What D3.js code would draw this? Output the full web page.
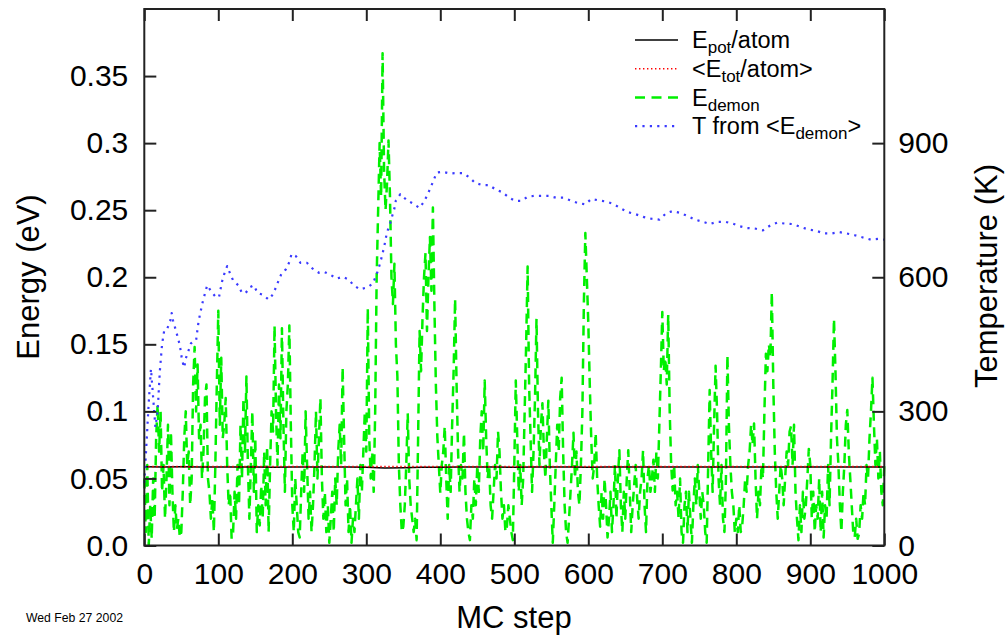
<!DOCTYPE html>
<html>
<head>
<meta charset="utf-8">
<script src="https://cdn.jsdelivr.net/npm/d3@7"></script>
<style>
body { margin: 0; background: #fff; }
svg text { font-family: "Liberation Sans", Arial, Helvetica, sans-serif; fill: #000; }
</style>
</head>
<body>
<svg id="chart" width="1007" height="639"></svg>
<script>
// MC steps on the x axis, energies in eV on the left, temperature in K on the right
var xTicks = [0, 100, 200, 300, 400, 500, 600, 700, 800, 900, 1000];
var eTicks = [0, 0.05, 0.1, 0.15, 0.2, 0.25, 0.3, 0.35];
var eTickLabels = ['0.0', '0.05', '0.1', '0.15', '0.2', '0.25', '0.3', '0.35'];
var tTicks = [0, 300, 600, 900];

// E_pot/atom
var epotSteps = [0, 25, 50, 75, 100, 125, 150, 175, 200, 225, 250, 275, 300, 325, 350, 375, 400, 425, 450, 475, 500,
	525, 550, 575, 600, 625, 650, 675, 700, 725, 750, 775, 800, 825, 850, 875, 900, 925, 950, 975, 1000];
var epotValues = [0.0588, 0.0586, 0.0587, 0.0585, 0.0586, 0.0585, 0.0586, 0.0584, 0.0586, 0.0585, 0.0586, 0.0585,
	0.0584, 0.0577, 0.0579, 0.0583, 0.0584, 0.0585, 0.0586, 0.0585, 0.0584, 0.0586, 0.0585, 0.0586, 0.0584, 0.0586,
	0.0585, 0.0586, 0.0585, 0.0586, 0.0585, 0.0586, 0.0585, 0.0586, 0.0585, 0.0586, 0.0585, 0.0586, 0.0585, 0.0586, 0.0585];

// <E_tot/atom>
var etotSteps = [0, 200, 400, 600, 800, 1000];
var etotValues = [0.0588, 0.0588, 0.0588, 0.0588, 0.0588, 0.0588];

// E_demon, one value every 2 MC steps
var demonStep = 2;
var demonValues = [
	0.05,0.01,0.06,0.0,0.03,0.005,0.05,0.02,0.08,0.105,
	0.07,0.1,0.04,0.06,0.02,0.05,0.09,0.03,0.085,0.04,
	0.01,0.03,0.012,0.02,0.006,0.01,0.04,0.08,0.1,0.06,
	0.07,0.03,0.05,0.12,0.148,0.1,0.135,0.08,0.09,0.05,
	0.07,0.11,0.12,0.05,0.04,0.02,0.035,0.01,0.06,0.12,
	0.175,0.09,0.14,0.08,0.09,0.11,0.06,0.03,0.04,0.005,
	0.01,0.04,0.02,0.06,0.03,0.09,0.05,0.11,0.07,0.126,
	0.06,0.02,0.06,0.1,0.04,0.08,0.01,0.03,0.015,0.045,
	0.02,0.07,0.03,0.074,0.01,0.06,0.1,0.085,0.164,0.1,
	0.06,0.12,0.08,0.162,0.09,0.04,0.1,0.12,0.164,0.09,
	0.03,0.01,0.05,0.03,0.01,0.006,0.04,0.07,0.04,0.1,
	0.06,0.02,0.04,0.01,0.03,0.06,0.1,0.05,0.08,0.11,
	0.05,0.02,0.04,0.01,0.03,0.002,0.02,0.04,0.01,0.05,
	0.03,0.07,0.09,0.06,0.133,0.08,0.03,0.05,0.01,0.03,
	0.002,0.02,0.01,0.03,0.05,0.02,0.06,0.04,0.07,0.1,
	0.07,0.177,0.08,0.05,0.07,0.04,0.1,0.2,0.25,0.3,
	0.26,0.367,0.28,0.25,0.27,0.302,0.26,0.2,0.18,0.21,
	0.15,0.126,0.06,0.03,0.01,0.014,0.03,0.06,0.0985,0.05,
	0.03,0.02,0.01,0.02,0.004,0.08,0.16,0.13,0.17,0.2,
	0.218,0.16,0.2,0.23,0.19,0.252,0.18,0.12,0.081,0.06,
	0.039,0.06,0.07,0.089,0.05,0.02,0.06,0.04,0.09,0.13,
	0.184,0.12,0.07,0.04,0.06,0.05,0.084,0.04,0.02,0.01,
	0.004,0.03,0.02,0.05,0.03,0.06,0.04,0.08,0.1,0.07,
	0.123,0.08,0.05,0.06,0.03,0.02,0.04,0.06,0.05,0.085,
	0.07,0.04,0.02,0.03,0.01,0.014,0.03,0.02,0.01,0.004,
	0.06,0.123,0.08,0.04,0.06,0.03,0.05,0.1,0.15,0.208,
	0.12,0.08,0.04,0.07,0.11,0.169,0.1,0.06,0.09,0.106,
	0.07,0.05,0.08,0.108,0.06,0.03,0.002,0.03,0.06,0.09,
	0.07,0.11,0.125,0.07,0.03,0.01,0.002,0.02,0.04,0.06,
	0.084,0.05,0.07,0.04,0.03,0.06,0.1,0.18,0.233,0.2,
	0.166,0.12,0.079,0.05,0.06,0.084,0.05,0.03,0.014,0.04,
	0.02,0.05,0.03,0.006,0.02,0.04,0.01,0.03,0.06,0.02,
	0.05,0.071,0.03,0.01,0.04,0.02,0.05,0.071,0.04,0.01,
	0.03,0.045,0.06,0.035,0.02,0.04,0.05,0.071,0.03,0.01,
	0.05,0.06,0.04,0.05,0.064,0.04,0.07,0.05,0.09,0.13,
	0.174,0.13,0.14,0.12,0.172,0.1,0.06,0.041,0.06,0.03,
	0.04,0.02,0.05,0.01,0.002,0.03,0.04,0.01,0.04,0.02,
	0.002,0.03,0.05,0.03,0.06,0.04,0.02,0.04,0.03,0.01,
	0.002,0.06,0.116,0.07,0.04,0.09,0.134,0.1,0.05,0.03,
	0.06,0.02,0.01,0.05,0.142,0.09,0.06,0.04,0.03,0.01,
	0.02,0.01,0.03,0.01,0.015,0.03,0.05,0.04,0.06,0.07,
	0.09,0.075,0.091,0.05,0.02,0.04,0.03,0.06,0.05,0.1,
	0.143,0.13,0.15,0.14,0.189,0.12,0.07,0.04,0.02,0.04,
	0.06,0.05,0.03,0.05,0.07,0.06,0.085,0.089,0.06,0.09,
	0.04,0.02,0.004,0.03,0.01,0.04,0.02,0.03,0.05,0.072,
	0.06,0.02,0.04,0.01,0.03,0.02,0.05,0.01,0.04,0.006,
	0.03,0.02,0.06,0.03,0.08,0.12,0.169,0.13,0.08,0.06,
	0.03,0.01,0.04,0.06,0.09,0.101,0.07,0.05,0.03,0.01,
	0.006,0.02,0.005,0.009,0.03,0.02,0.04,0.03,0.06,0.05,
	0.08,0.1,0.125,0.09,0.06,0.08,0.05,0.07,0.04,0.03,
	0.06];

// T from <E_demon>, in K
var tempSteps = [0, 3, 6, 9, 12, 15, 18, 21, 24, 27, 31, 35, 37, 39, 42, 45, 48, 51, 54, 56, 60, 63, 66, 70, 73, 75,
	79, 82, 85, 91, 97, 101, 105, 108, 112, 116, 120, 127, 132, 137, 143, 148, 153, 161, 168, 174, 179, 182, 186, 191,
	196, 199, 205, 211, 220, 227, 236, 243, 252, 260, 268, 276, 283, 291, 301, 309, 316, 320, 324, 328, 332, 335, 338,
	340, 346, 355, 363, 372, 378, 383, 387, 391, 395, 403, 413, 422, 430, 439, 447, 457, 466, 475, 484, 493, 501, 510,
	518, 527, 537, 547, 556, 566, 576, 586, 596, 604, 614, 625, 635, 644, 653, 664, 674, 685, 696, 705, 714, 724, 734,
	744, 755, 764, 774, 785, 795, 805, 815, 825, 836, 846, 855, 866, 876, 886, 897, 908, 918, 929, 939, 949, 960, 971,
	982, 993, 1000];
var tempValues = [140, 230, 320, 395, 330, 265, 300, 390, 450, 482, 485, 502, 520, 502, 485, 467, 448, 415, 398, 418,
	437, 452, 456, 459, 497, 515, 545, 564, 582, 567, 555, 556, 590, 607, 625, 608, 593, 582, 565, 565, 578, 582, 565,
	560, 550, 562, 582, 595, 610, 617, 634, 652, 647, 632, 632, 620, 610, 612, 605, 597, 601, 595, 582, 573, 577, 586,
	616, 640, 667, 701, 719, 737, 754, 772, 786, 772, 765, 755, 769, 786, 801, 817, 834, 836, 832, 833, 833, 824, 811,
	806, 806, 796, 790, 778, 771, 771, 780, 782, 782, 782, 778, 778, 772, 766, 763, 775, 772, 769, 763, 754, 746, 741,
	735, 731, 729, 743, 748, 744, 737, 729, 724, 719, 724, 724, 720, 714, 710, 709, 705, 716, 722, 720, 719, 713, 707,
	704, 698, 698, 701, 698, 694, 689, 684, 686, 684];

var legendMain = ['E', '<E', 'E', 'T from <E'];
var legendSub = ['pot', 'tot', 'demon', 'demon'];
var legendTail = ['/atom', '/atom>', '', '>'];

var styles = [
	{ color: '#000000', width: 1.5, dash: null },
	{ color: '#ff0000', width: 1.6, dash: '1.4,2.6' },
	{ color: '#00f000', width: 2.5, dash: '10,6.5' },
	{ color: '#3a3aff', width: 2.2, dash: '2.2,5.2' }
];

// plot frame (window.top is read-only, hence the prefix)
var plotLeft = 144.3, plotRight = 884.3, plotTop = 9, plotBottom = 545.5;

var svg = d3.select('#chart');
svg.append('rect').attr('width', 1007).attr('height', 639).attr('fill', '#fff');

var x = d3.scaleLinear().domain([0, 1000]).range([plotLeft, plotRight]);
var yE = d3.scaleLinear().domain([0, 0.4]).range([plotBottom, plotTop]);
var yT = d3.scaleLinear().domain([0, 1200]).range([plotBottom, plotTop]);

function zip(steps, values)
{
	var out = [];
	for (var i = 0; i < values.length; i++)
	{
		out.push({ step: steps[i], v: values[i] });
	}
	return out;
}

var demonData = demonValues.map(function(v, i) { return { step: i * demonStep, v: v }; });
var epotData = zip(epotSteps, epotValues);
var etotData = zip(etotSteps, etotValues);
var tempData = zip(tempSteps, tempValues);

function drawLine(data, yScale, st)
{
	var line = d3.line().x(d => x(d.step)).y(d => yScale(d.v));
	var p = svg.append('path').datum(data)
		.attr('d', line)
		.attr('fill', 'none')
		.attr('stroke', st.color)
		.attr('stroke-width', st.width)
		.attr('stroke-linejoin', 'round');
	if (st.dash) p.attr('stroke-dasharray', st.dash);
	return p;
}

drawLine(demonData, yE, styles[2]);
drawLine(epotData, yE, styles[0]);
drawLine(etotData, yE, styles[1]);
drawLine(tempData, yT, styles[3]);

// axes, ticks pointing inwards
function styleAxis(g)
{
	g.select('.domain').remove();
	g.selectAll('.tick line').attr('stroke', '#222').attr('stroke-width', 2);
	g.selectAll('.tick text').attr('font-size', 30).attr('font-family', '"Liberation Sans", Arial, sans-serif').attr('fill', '#000');
}

svg.append('g').attr('transform', 'translate(0,' + plotBottom + ')')
	.call(d3.axisBottom(x).tickValues(xTicks).tickSizeInner(-12).tickSizeOuter(0).tickPadding(17).tickFormat(d3.format('d')))
	.call(styleAxis);
svg.append('g').attr('transform', 'translate(0,' + plotTop + ')')
	.call(d3.axisTop(x).tickValues(xTicks).tickSizeInner(-12).tickSizeOuter(0).tickFormat(''))
	.call(styleAxis);
svg.append('g').attr('transform', 'translate(' + plotLeft + ',0)')
	.call(d3.axisLeft(yE).tickValues(eTicks).tickSizeInner(-12).tickSizeOuter(0).tickPadding(16)
		.tickFormat((d, i) => eTickLabels[i]))
	.call(styleAxis);
svg.append('g').attr('transform', 'translate(' + plotRight + ',0)')
	.call(d3.axisRight(yT).tickValues(tTicks).tickSizeInner(-12).tickSizeOuter(0).tickPadding(14).tickFormat(d3.format('d')))
	.call(styleAxis);

svg.append('rect')
	.attr('x', plotLeft).attr('y', plotTop)
	.attr('width', plotRight - plotLeft).attr('height', plotBottom - plotTop)
	.attr('fill', 'none').attr('stroke', '#222').attr('stroke-width', 2);

// axis titles
svg.append('text').attr('x', 514).attr('y', 628).attr('text-anchor', 'middle').attr('font-size', 31).text('MC step');
svg.append('text').attr('transform', 'translate(39,277) rotate(-90)').attr('text-anchor', 'middle').attr('font-size', 31).text('Energy (eV)');
svg.append('text').attr('transform', 'translate(997,276) rotate(-90)').attr('text-anchor', 'middle').attr('font-size', 31).text('Temperature (K)');

svg.append('text').attr('x', 26).attr('y', 621.5).attr('font-size', 12)
	.attr('textLength', 97).attr('lengthAdjust', 'spacingAndGlyphs').text('Wed Feb 27 2002');

// legend
var legend = svg.append('g');
for (var i = 0; i < legendMain.length; i++)
{
	var ly = 40 + i * 28.7;
	var st = styles[i];
	var ln = legend.append('line').attr('x1', 635).attr('x2', 678).attr('y1', ly).attr('y2', ly)
		.attr('stroke', st.color).attr('stroke-width', st.width);
	if (st.dash) ln.attr('stroke-dasharray', st.dash);
	var t = legend.append('text').attr('x', 692).attr('y', ly + 8.3).attr('font-size', 23.5);
	t.append('tspan').text(legendMain[i]);
	t.append('tspan').attr('font-size', 17).attr('dy', 5).text(legendSub[i]);
	t.append('tspan').attr('dy', -5).text(legendTail[i]);
}
</script>
</body>
</html>
